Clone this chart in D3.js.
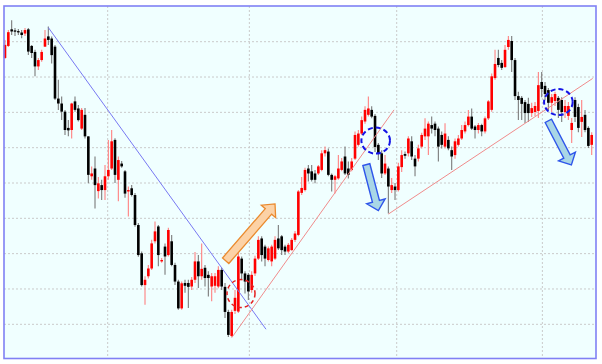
<!DOCTYPE html>
<html><head><meta charset="utf-8">
<script src="https://cdn.jsdelivr.net/npm/d3@7/dist/d3.min.js"></script>
<style>html,body{margin:0;padding:0;background:#fff;}svg{display:block}</style>
</head><body><svg id="c" width="602" height="364"></svg>
<script>
// ---- data (price units) ----
const open = [175.4,178.8,183.5,183.2,183.0,182.6,182.3,183.5,178.8,177.1,173.0,174.8,178.6,181.5,180.9,178.6,163.9,162.5,160.2,155.6,
155.0,163.1,161.1,155.4,159.3,153.2,141.9,144.1,137.7,139.4,138.0,141.9,144.1,152.2,140.9,145.5,143.3,137.6,138.5,136.6,
128.1,120.1,111.1,113.6,115.8,123.5,127.7,117.8,122.0,119.6,123.5,116.8,112.1,104.5,111.7,111.7,110.7,112.6,117.8,113.6,
116.0,114.0,110.7,110.9,110.7,115.4,110.6,103.5,96.7,103.8,103.6,118.6,114.4,114.0,109.7,114.4,118.6,124.3,122.0,118.2,
117.8,118.6,124.3,124.9,122.0,120.6,121.0,123.9,125.3,137.2,138.0,144.1,143.3,142.7,142.7,143.7,148.4,148.9,142.3,140.9,
141.3,143.7,147.5,144.1,143.7,146.9,150.8,154.0,157.4,159.3,160.7,159.0,150.8,148.4,142.7,144.1,138.0,139.0,138.0,144.5,
148.2,148.4,151.8,146.9,146.9,150.3,153.2,153.2,156.4,156.8,155.4,153.6,150.3,152.2,149.3,147.9,150.8,152.6,154.6,156.4,
158.8,156.0,155.0,156.4,154.6,158.3,160.7,169.7,175.4,174.0,172.8,178.5,180.2,174.8,164.6,164.1,162.9,162.4,159.8,160.1,
160.4,168.6,167.5,166.3,162.7,163.2,164.1,163.5,160.1,159.0,155.0,163.5,161.5,157.3,159.3,155.6,150.8];
const high = [180.5,183.3,186.1,183.9,183.6,183.3,183.9,183.9,179.1,177.7,175.4,177.7,183.3,184.3,181.5,179.1,169.2,164.5,160.7,157.8,
162.7,164.5,162.1,161.2,161.2,153.2,144.7,147.5,141.7,140.9,145.1,152.2,155.0,152.7,147.5,146.2,143.7,139.0,139.4,137.2,
128.7,120.6,113.6,116.8,123.9,129.1,128.1,118.8,122.9,127.3,125.3,117.4,112.6,112.1,112.6,112.6,113.4,120.5,119.6,122.9,
116.8,115.0,114.5,114.5,116.4,116.0,111.7,104.1,104.1,109.7,120.2,119.2,115.0,114.5,115.0,119.4,124.9,124.9,122.5,122.0,
122.5,124.9,128.1,125.3,122.5,123.0,124.4,126.4,138.0,141.7,144.3,145.1,145.1,143.7,145.1,149.3,150.3,149.8,142.7,142.3,
147.9,147.1,150.3,146.1,147.1,154.6,155.0,158.8,161.7,164.5,161.7,159.5,151.3,149.3,147.9,144.7,141.4,140.0,145.7,149.3,
148.9,153.2,153.2,147.9,150.8,154.2,158.3,157.4,158.8,157.4,156.0,154.6,156.9,153.2,150.3,152.6,153.6,156.4,157.4,160.7,
161.1,156.4,157.0,156.8,158.8,163.5,171.0,177.7,177.7,174.8,179.1,181.6,181.6,175.4,165.8,164.6,163.5,164.1,162.7,162.9,
171.4,171.4,168.6,166.9,165.2,165.8,164.6,164.3,163.5,162.9,158.4,164.3,162.4,163.5,160.7,156.1,154.4];
const low = [175.1,178.5,181.9,181.6,181.9,181.0,181.6,176.2,175.4,170.2,172.0,174.3,178.5,179.1,173.8,163.5,160.7,157.8,153.6,153.2,
152.6,160.2,157.4,155.0,152.6,139.9,140.9,132.8,135.6,135.2,135.2,140.9,143.7,140.0,134.8,144.3,135.8,130.5,136.2,127.6,
119.1,110.7,105.5,113.0,115.4,122.9,116.4,117.4,114.0,119.2,116.4,111.1,104.1,104.1,108.9,104.6,109.7,111.7,110.3,112.6,
110.7,107.9,106.5,108.9,110.2,109.7,101.8,96.4,96.4,102.9,103.2,112.6,108.7,106.9,108.9,113.7,118.2,117.8,116.4,117.8,
116.4,118.2,121.0,119.6,119.6,120.2,120.8,123.3,124.9,136.6,137.6,140.4,140.4,139.9,142.3,143.3,147.5,141.9,137.6,137.0,
140.9,143.3,142.3,141.3,143.3,146.5,150.3,153.6,156.8,158.8,158.3,148.8,146.5,141.4,142.3,131.4,137.2,135.2,137.6,143.1,
146.9,147.5,146.5,141.9,146.1,149.8,152.2,147.9,154.0,153.2,146.1,149.8,149.8,149.3,143.7,146.9,150.3,152.2,154.0,156.0,
155.0,152.6,154.0,153.2,154.0,157.8,160.2,169.2,172.8,172.0,172.6,177.7,171.4,163.5,157.8,157.8,157.0,157.3,158.7,159.0,
158.4,164.3,163.5,160.7,160.1,161.8,158.4,157.3,158.4,157.8,151.3,157.3,154.4,153.0,154.4,149.9,147.9];
const close = [179.1,182.7,182.9,182.9,182.7,181.9,183.3,177.2,176.8,173.0,174.8,177.1,180.9,180.5,176.2,163.9,162.5,160.2,155.0,154.9,
162.5,160.7,157.8,160.7,153.2,142.3,142.7,139.4,139.9,138.0,141.9,143.7,151.8,142.3,146.5,144.7,137.0,138.0,136.6,128.1,
119.6,111.1,112.6,115.8,122.9,126.3,119.6,118.2,119.2,126.7,116.8,112.1,104.5,111.6,110.9,110.6,112.6,117.8,113.6,115.7,
113.1,113.1,113.6,113.6,115.4,110.7,103.5,97.0,103.5,107.5,119.2,114.4,112.1,109.3,114.0,118.6,123.9,119.6,118.6,121.5,
122.0,123.9,121.5,121.0,120.6,122.5,123.9,125.7,137.6,138.6,143.7,142.7,140.9,140.9,144.7,148.4,149.3,142.3,140.9,141.9,
144.1,146.1,142.7,142.3,146.1,153.6,154.0,157.8,160.7,161.1,158.8,150.2,148.4,142.7,145.5,139.0,139.4,138.0,144.7,147.9,
147.7,152.6,147.5,144.7,149.8,153.6,155.4,156.8,155.4,155.0,150.3,150.8,154.0,149.8,147.5,151.8,152.6,155.0,156.4,158.8,
155.4,155.0,156.4,154.6,158.3,163.1,170.2,173.7,173.4,172.6,177.7,180.5,174.8,164.6,163.5,162.4,159.8,159.8,161.2,161.8,
167.7,166.6,165.2,162.7,164.3,165.2,160.7,160.1,161.8,161.8,157.0,158.7,155.6,158.7,155.0,150.5,153.6];

const gridPrices = [100,110,120,130,140,150,160,170,180];
const periodBreaks = [30.8, 73.3, 117.5, 161.2];           // candle index of dotted vertical separators

// annotations: [candle index, price]
const downTrend   = [[13.0,184.0],[78.3,98.6]];
const upTrend1    = [[68.0,96.2],[116.7,160.7]];
const upTrend2    = [[115.0,131.2],[176.3,169.6]];
const orangeArrow = [[66.2,118.0],[81.0,134.1]];
const blueArrows  = [[[108.4,145.2],[112.0,132.2]], [[163.0,157.6],[169.9,145.1]]];
const redCircle   = [70.8,108.7];
const blueCircles = [[111.2,152.0],[166.0,162.9]];

// ---- drawing ----
const svg = d3.select('#c');
const F = {x0:4, y0:6, x1:596, y1:358.5};
const x = d3.scaleLinear().domain([0, open.length-1]).range([5, 591.7]);
const y = d3.scaleLinear().domain([100,180]).range([324.3, 41.7]);

svg.append('rect').attr('x',0).attr('y',0).attr('width',602).attr('height',364).attr('fill','#fff');
svg.append('rect').attr('x',F.x0).attr('y',F.y0).attr('width',F.x1-F.x0).attr('height',F.y1-F.y0).attr('fill','#f0ffff');

const g = svg.append('g');
g.selectAll('line.h').data(gridPrices).join('line').attr('class','h')
  .attr('x1',F.x0).attr('x2',F.x1).attr('y1',d=>y(d)).attr('y2',d=>y(d))
  .attr('stroke','#cacaca').attr('stroke-width',1).attr('stroke-dasharray','2,2');
g.selectAll('line.v').data(periodBreaks).join('line').attr('class','v')
  .attr('x1',d=>x(d)).attr('x2',d=>x(d)).attr('y1',F.y0).attr('y2',F.y1)
  .attr('stroke','#cacaca').attr('stroke-width',1).attr('stroke-dasharray','2,2');

const idx = d3.range(open.length);
const up = i => close[i] >= open[i];
g.selectAll('line.wick').data(idx).join('line').attr('class','wick')
  .attr('x1',i=>x(i)).attr('x2',i=>x(i)).attr('y1',i=>y(high[i])).attr('y2',i=>y(low[i]))
  .attr('stroke',i=>up(i)?'#ff8080':'#7a7a7a').attr('stroke-width',1.1);
g.selectAll('rect.body').data(idx).join('rect').attr('class','body')
  .attr('x',i=>x(i)-1.3).attr('width',2.6)
  .attr('y',i=>y(Math.max(open[i],close[i])))
  .attr('height',i=>Math.max(1.3, Math.abs(y(open[i])-y(close[i]))))
  .attr('fill',i=>up(i)?'#ff0000':'#000000');

const line = d3.line().x(d=>x(d[0])).y(d=>y(d[1]));
g.append('path').attr('d',line(downTrend)).attr('stroke','#7878f2').attr('stroke-width',1).attr('fill','none');
g.append('path').attr('d',line(upTrend1)).attr('stroke','#f08c8c').attr('stroke-width',1).attr('fill','none');
g.append('path').attr('d',line(upTrend2)).attr('stroke','#f08c8c').attr('stroke-width',1).attr('fill','none');

function arrowPath(a, b, sw, hw, hl){
  const T=[x(a[0]),y(a[1])], P=[x(b[0]),y(b[1])];
  const dx=P[0]-T[0], dy=P[1]-T[1], L=Math.hypot(dx,dy);
  const u=[dx/L,dy/L], n=[-u[1],u[0]];
  const B=[P[0]-u[0]*hl, P[1]-u[1]*hl];
  const pts=[[T[0]+n[0]*sw,T[1]+n[1]*sw],[B[0]+n[0]*sw,B[1]+n[1]*sw],[B[0]+n[0]*hw,B[1]+n[1]*hw],P,
             [B[0]-n[0]*hw,B[1]-n[1]*hw],[B[0]-n[0]*sw,B[1]-n[1]*sw],[T[0]-n[0]*sw,T[1]-n[1]*sw]];
  return 'M'+pts.map(p=>p[0].toFixed(2)+','+p[1].toFixed(2)).join('L')+'Z';
}
g.append('path').attr('d',arrowPath(orangeArrow[0],orangeArrow[1],4.2,9.5,10))
  .attr('fill','#fcd2a6').attr('stroke','#ea8a2e').attr('stroke-width',1.3).attr('stroke-linejoin','miter');
blueArrows.forEach(a=>{
  g.append('path').attr('d',arrowPath(a[0],a[1],3.6,9.5,9.5))
   .attr('fill','#a9d6e6').attr('stroke','#2f56ea').attr('stroke-width',1.4);
});

g.append('ellipse').attr('cx',x(redCircle[0])).attr('cy',y(redCircle[1])).attr('rx',14).attr('ry',14)
  .attr('fill','none').attr('stroke','#e42020').attr('stroke-width',1.5).attr('stroke-dasharray','4,3');
g.selectAll('ellipse.b').data(blueCircles).join('ellipse').attr('class','b')
  .attr('cx',d=>x(d[0])).attr('cy',d=>y(d[1])).attr('rx',14.3).attr('ry',13)
  .attr('fill','none').attr('stroke','#1414e6').attr('stroke-width',2).attr('stroke-dasharray','5,3');

svg.append('rect').attr('x',F.x0).attr('y',F.y0).attr('width',F.x1-F.x0).attr('height',F.y1-F.y0)
  .attr('fill','none').attr('stroke','#8080f4').attr('stroke-width',1.6);
</script></body></html>
